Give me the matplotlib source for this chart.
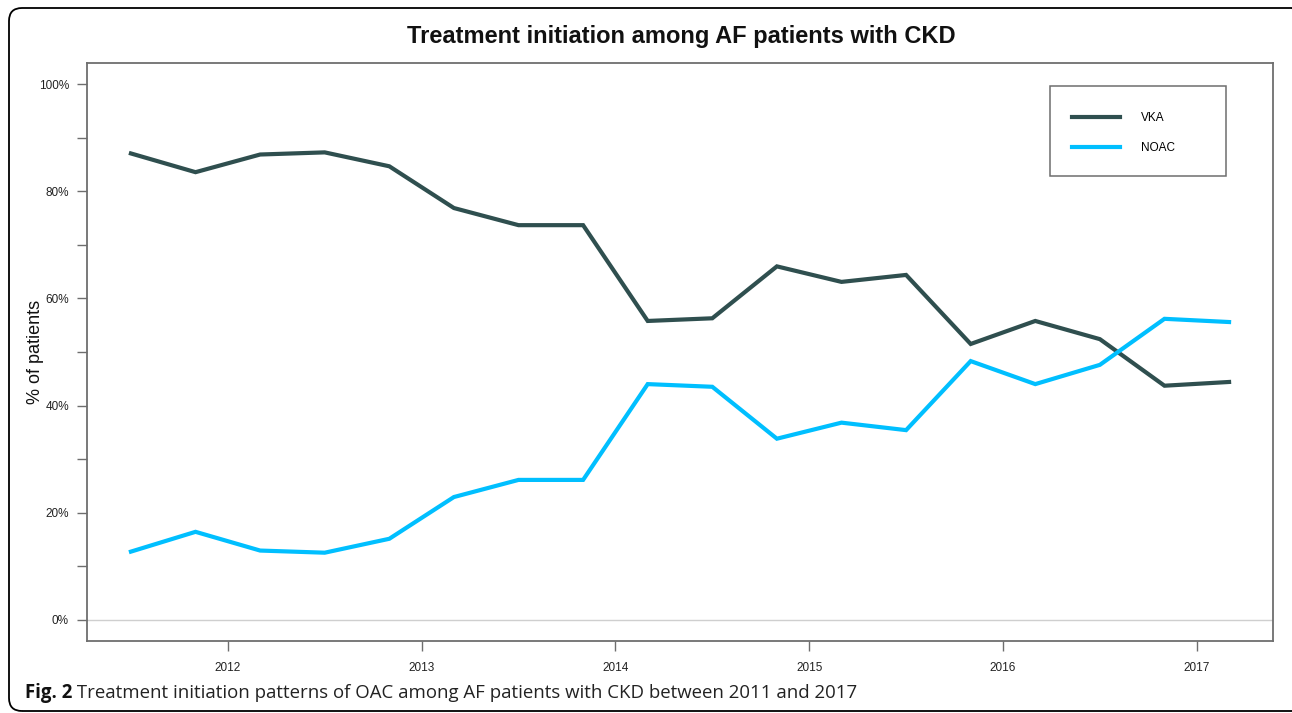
import matplotlib
matplotlib.use("Agg")
import matplotlib.pyplot as plt
from matplotlib.patches import FancyBboxPatch, Rectangle
from matplotlib.transforms import IdentityTransform
from matplotlib.ticker import FuncFormatter, MultipleLocator

# Data: 4-month intervals from mid-2011 to early 2017
periods = [2011 + 6/12 + i * 4/12 for i in range(18)]
vka = [87.1, 83.6, 86.9, 87.3, 84.7, 76.9, 73.7, 73.7, 55.8, 56.3, 66.0, 63.1, 64.4, 51.5, 55.8, 52.4, 43.7, 44.4]
noac = [12.7, 16.4, 12.9, 12.5, 15.1, 22.9, 26.1, 26.1, 44.0, 43.5, 33.8, 36.8, 35.4, 48.3, 44.0, 47.6, 56.2, 55.6]
year_ticks = [2012, 2013, 2014, 2015, 2016, 2017]
series_names = ["VKA", "NOAC"]
title = "Treatment initiation among AF patients with CKD"
caption_bold = "Fig. 2"
caption_text = " Treatment initiation patterns of OAC among AF patients with CKD between 2011 and 2017"

W, H = 1292, 713
fig = plt.figure(figsize=(W / 100, H / 100), dpi=100)
fig.patch.set_facecolor("white")

def fx(px):
    return px / W

def fy(py):
    return 1 - py / H

# rounded outer frame (pixel coordinates, y from bottom)
frame = FancyBboxPatch((9, H - 711), 1305 - 9, 711 - 8,
                       boxstyle="round,pad=0,rounding_size=13",
                       transform=IdentityTransform(), fill=False, ec="black", lw=1.3)
fig.patches.append(frame)

ax_l, ax_r, ax_t, ax_b = 87, 1273, 63, 641
ax = fig.add_axes([fx(ax_l), fy(ax_b), (ax_r - ax_l) / W, (ax_b - ax_t) / H])

gray = "#6e6e6e"
ax.axhline(0, color="#cfcfcf", lw=1, zorder=1)
l1, = ax.plot(periods, vka, color="#2F4F4F", lw=3.0, label=series_names[0], zorder=3,
              solid_joinstyle="miter")
l2, = ax.plot(periods, noac, color="#00BFFF", lw=3.0, label=series_names[1], zorder=3,
              solid_joinstyle="miter")

span = periods[-1] - periods[0]
ax.set_xlim(periods[0] - 0.04 * span, periods[-1] + 0.04 * span)
ax.set_ylim(-4, 104)
ax.set_xticks(year_ticks)
ax.set_xticklabels([str(y) for y in year_ticks], fontsize=8.5,
                   color="#222222", family="Liberation Sans")
ax.yaxis.set_major_locator(MultipleLocator(20))
ax.yaxis.set_minor_locator(MultipleLocator(10))
ax.yaxis.set_major_formatter(FuncFormatter(lambda v, p: f"{v:.0f}%"))
for lab in ax.get_yticklabels():
    lab.set_family("Liberation Sans")
    lab.set_fontsize(8.5)
    lab.set_color("#222222")
ax.tick_params(axis="both", which="both", length=7, width=1, color=gray)
ax.tick_params(axis="y", pad=6)
ax.tick_params(axis="x", pad=8)
for s in ax.spines.values():
    s.set_color(gray)
    s.set_linewidth(1.3)

ax.set_ylabel("% of patients", fontsize=13, family="Liberation Sans", color="#111111")
ax.yaxis.set_label_coords((44 - ax_l) / (ax_r - ax_l), 0.5)

# legend box drawn manually in figure pixel positions
fig.patches.append(Rectangle((fx(1050), fy(176)), (1226 - 1050) / W, (176 - 86) / H,
                             transform=fig.transFigure, fill=False, ec=gray, lw=1.1))
leg = ax.legend(handles=[l1, l2], loc="upper left",
                bbox_to_anchor=((1072 - ax_l) / (ax_r - ax_l), 1 - (112 - ax_t) / (ax_b - ax_t)),
                frameon=False, prop={"family": "Liberation Sans", "size": 8.5},
                borderpad=0, labelspacing=1.55, handlelength=4.1, handletextpad=1.75,
                borderaxespad=0)

fig.text(fx(681), fy(36), title, ha="center", va="center", fontsize=17,
         fontweight="bold", family="Liberation Sans", color="#111111")

t1 = fig.text(fx(25), fy(693), caption_bold, ha="left", va="center", fontsize=13.4,
              fontweight="bold", family="Open Sans", color="#111111")
fig.canvas.draw()
bb = t1.get_window_extent()
fig.text(bb.x1 / W, fy(693), caption_text, ha="left", va="center", fontsize=13.4,
         family="Open Sans", color="#222222")

fig.savefig("out.png", dpi=100)
